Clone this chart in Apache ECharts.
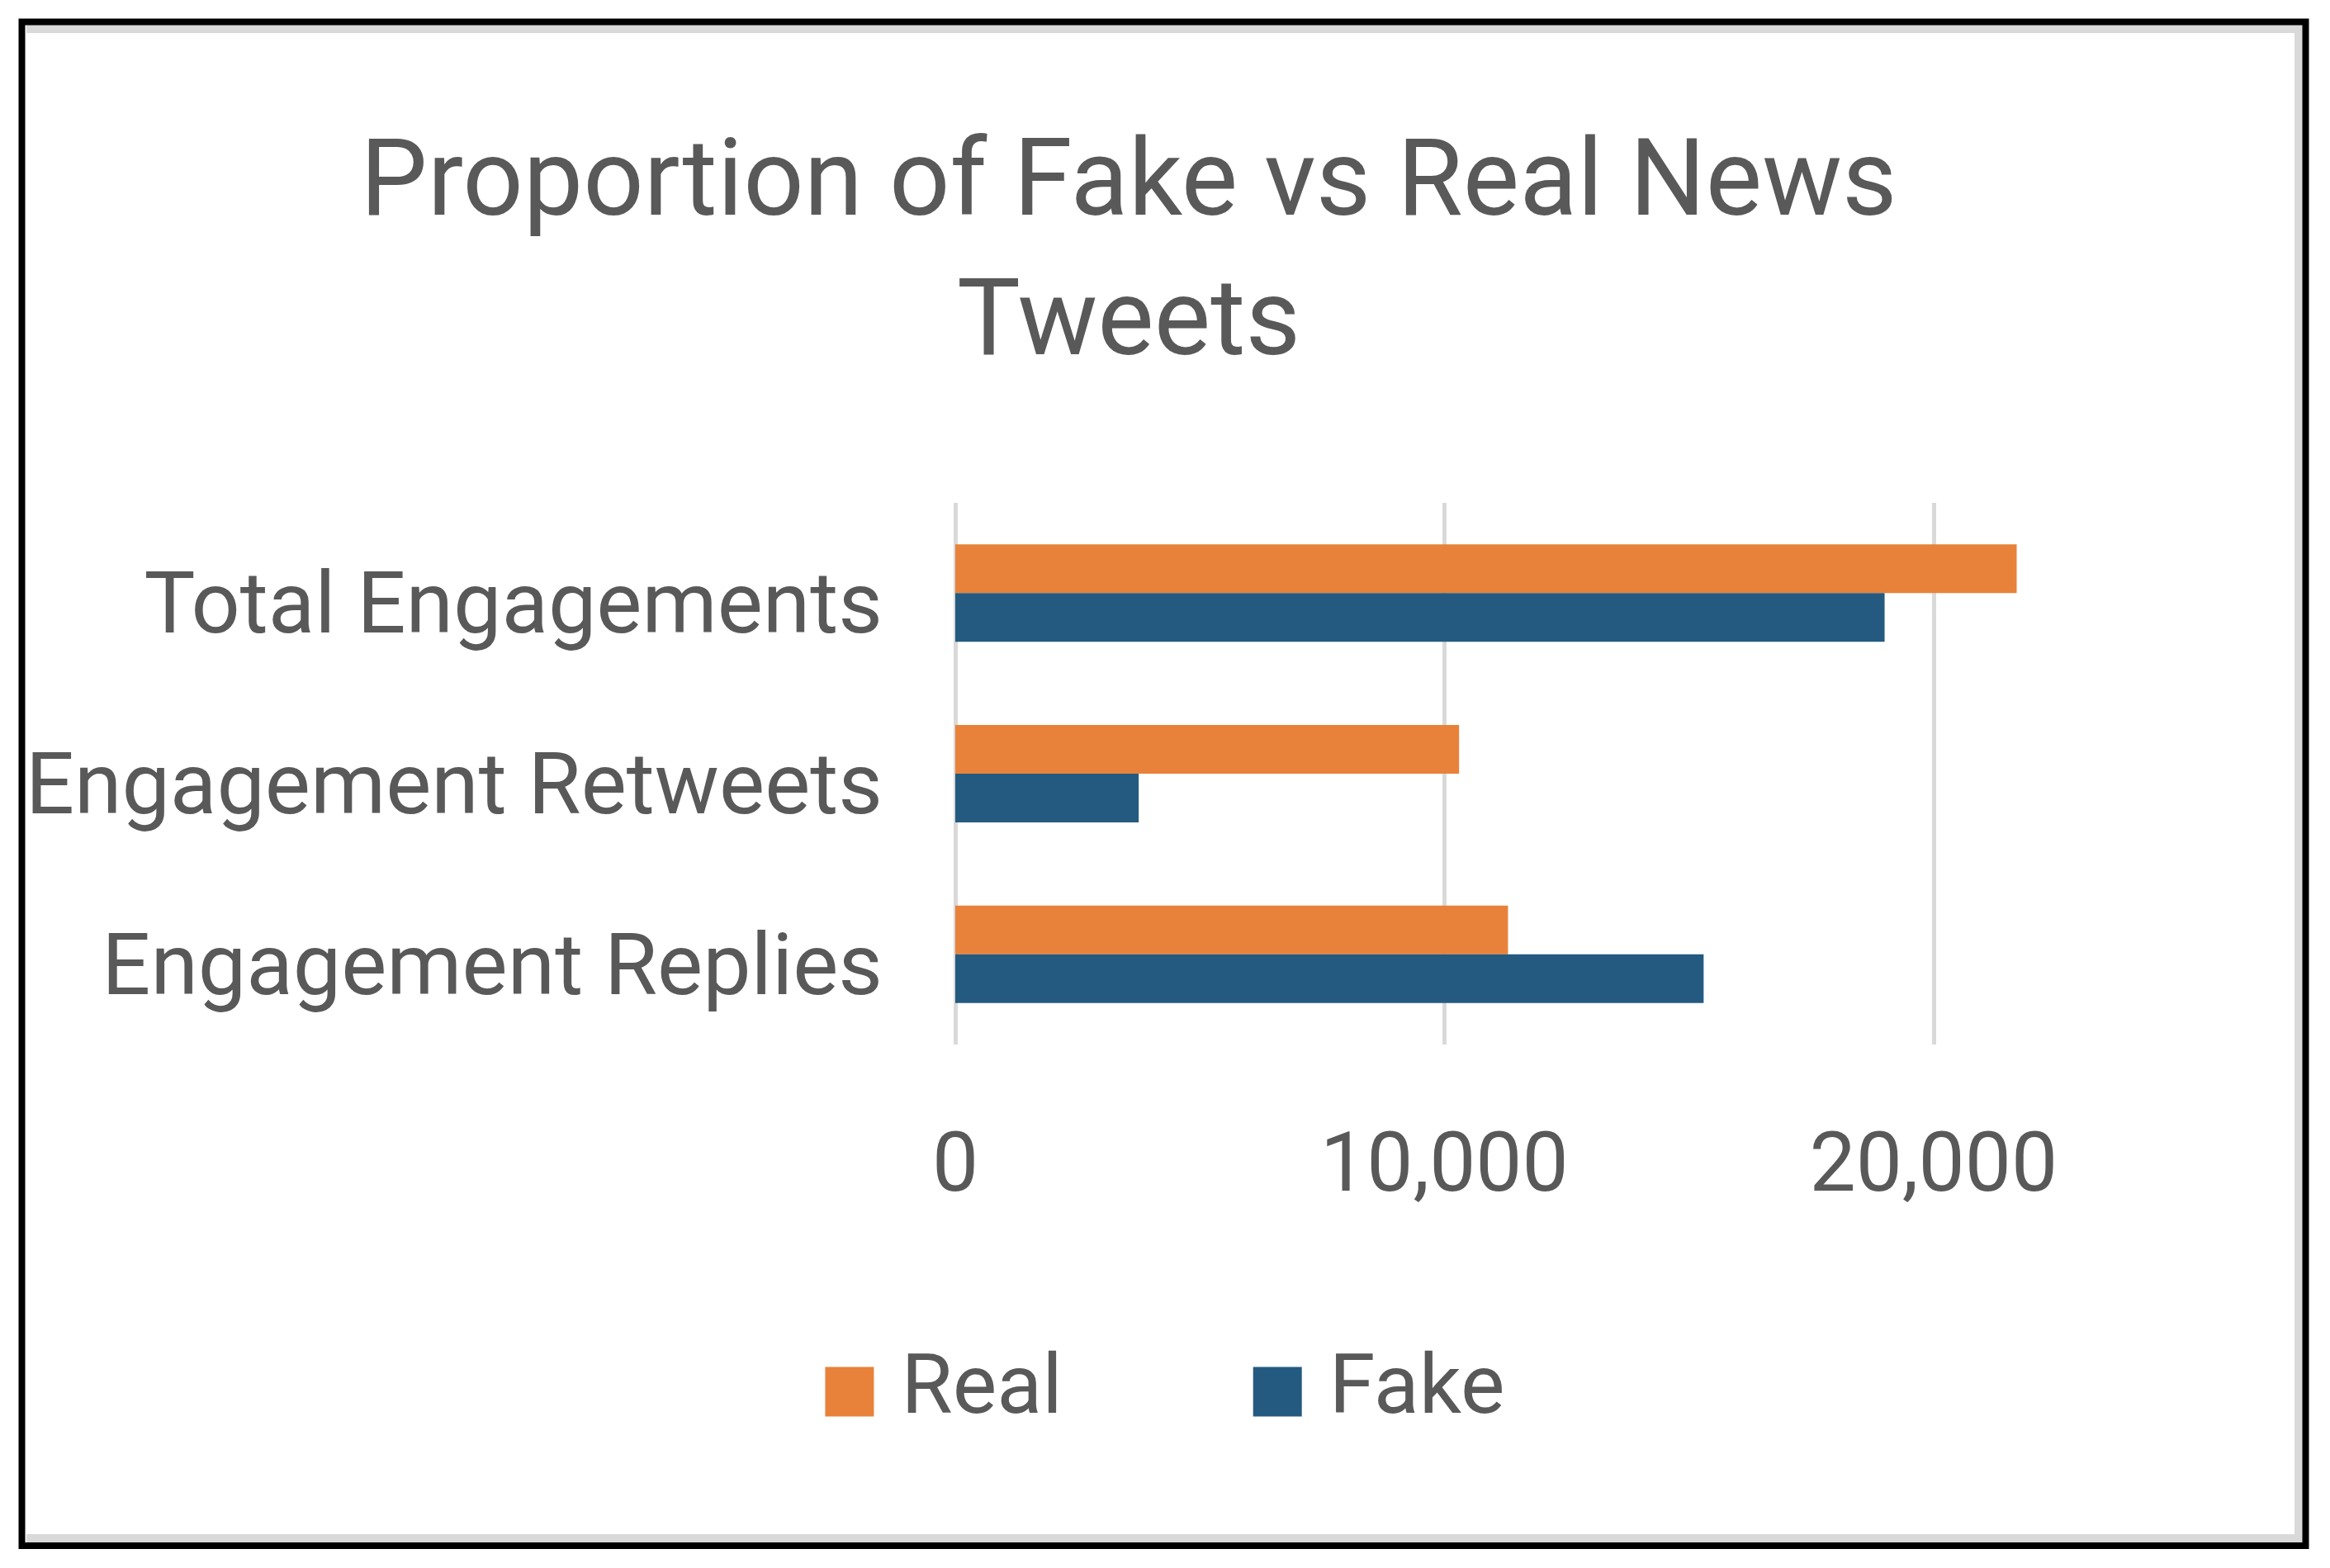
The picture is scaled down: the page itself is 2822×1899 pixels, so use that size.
<!DOCTYPE html>
<html lang="en">
<head>
    <meta charset="UTF-8">
    <title>Fake vs Real News Tweets</title>
    <script src="https://cdn.jsdelivr.net/npm/echarts@6/dist/echarts.min.js"></script>
    <style>
        html, body { margin: 0; padding: 0; background: #fff; }
        #chart { width: 2822px; height: 1899px; }
    </style>
</head>
<body>

<div id="chart"></div>

<script>
    // data
    var categories = ['Total Engagements', 'Engagement Retweets', 'Engagement Replies'];
    var seriesNames = ['Real', 'Fake'];
    var realValues = [21700, 10300, 11300];
    var fakeValues = [19000, 3750, 15300];
    var tickStep = 10000;
    var axisMax = 25000;

    var textColor = '#595959';
    var fontName = 'Roboto';

    var myChart = echarts.init(document.getElementById('chart'));
    var option = {
        backgroundColor: '#fff',
        animation: false,
        title: {
            text: 'Proportion of Fake vs Real News\nTweets',
            left: 1367,
            top: 143,
            padding: 0,
            textAlign: 'center',
            textStyle: {
                fontFamily: fontName,
                fontSize: 129,
                fontWeight: 'normal',
                color: textColor,
                lineHeight: 169
            }
        },
        legend: {
            data: seriesNames,
            left: 'center',
            top: 1635,
            padding: 0,
            icon: 'rect',
            itemWidth: 59,
            itemHeight: 60,
            itemGap: 231,
            textStyle: {
                fontFamily: fontName,
                fontSize: 101,
                color: textColor,
                padding: [0, 0, 0, 28]
            }
        },
        grid: {
            left: 1157,
            top: 609,
            width: 1481,
            height: 656,
            outerBoundsMode: 'none'
        },
        xAxis: {
            type: 'value',
            min: 0,
            max: axisMax,
            interval: tickStep,
            axisLine: {show: false},
            axisTick: {show: false},
            splitLine: {
                show: true,
                showMaxLine: false,
                lineStyle: {color: '#D9D9D9', width: 5}
            },
            axisLabel: {
                showMaxLabel: false,
                margin: 102,
                fontFamily: fontName,
                fontSize: 100,
                color: textColor,
                formatter: function (v) {
                    return v.toLocaleString('en-US');
                }
            }
        },
        yAxis: {
            type: 'category',
            inverse: true,
            data: categories,
            axisLine: {show: false},
            axisTick: {show: false},
            axisLabel: {
                margin: 88,
                fontFamily: fontName,
                fontSize: 104,
                color: textColor,
                // labels sit a little below the bar pair centre
                verticalAlign: 'top',
                lineHeight: 44
            }
        },
        series: [
            {
                name: 'Real',
                type: 'bar',
                data: realValues,
                barWidth: 59,
                barGap: '0%',
                itemStyle: {color: '#E8823A'}
            },
            {
                name: 'Fake',
                type: 'bar',
                data: fakeValues,
                barWidth: 59,
                barGap: '0%',
                itemStyle: {color: '#245A80'}
            }
        ],
        graphic: [
            // light grey inner edge of the frame
            {type: 'rect', shape: {x: 32, y: 30, width: 2757, height: 10}, style: {fill: '#D9D9D9'}, z: 10},
            {type: 'rect', shape: {x: 2779, y: 30, width: 10, height: 1838}, style: {fill: '#D9D9D9'}, z: 10},
            {type: 'rect', shape: {x: 32, y: 1858, width: 2757, height: 10}, style: {fill: '#D9D9D9'}, z: 10},
            // black outer frame
            {type: 'rect', shape: {x: 26.5, y: 26.5, width: 2766, height: 1845.5}, style: {fill: 'none', stroke: '#000', lineWidth: 8}, z: 11}
        ]
    };
    myChart.setOption(option);
</script>

</body>
</html>
